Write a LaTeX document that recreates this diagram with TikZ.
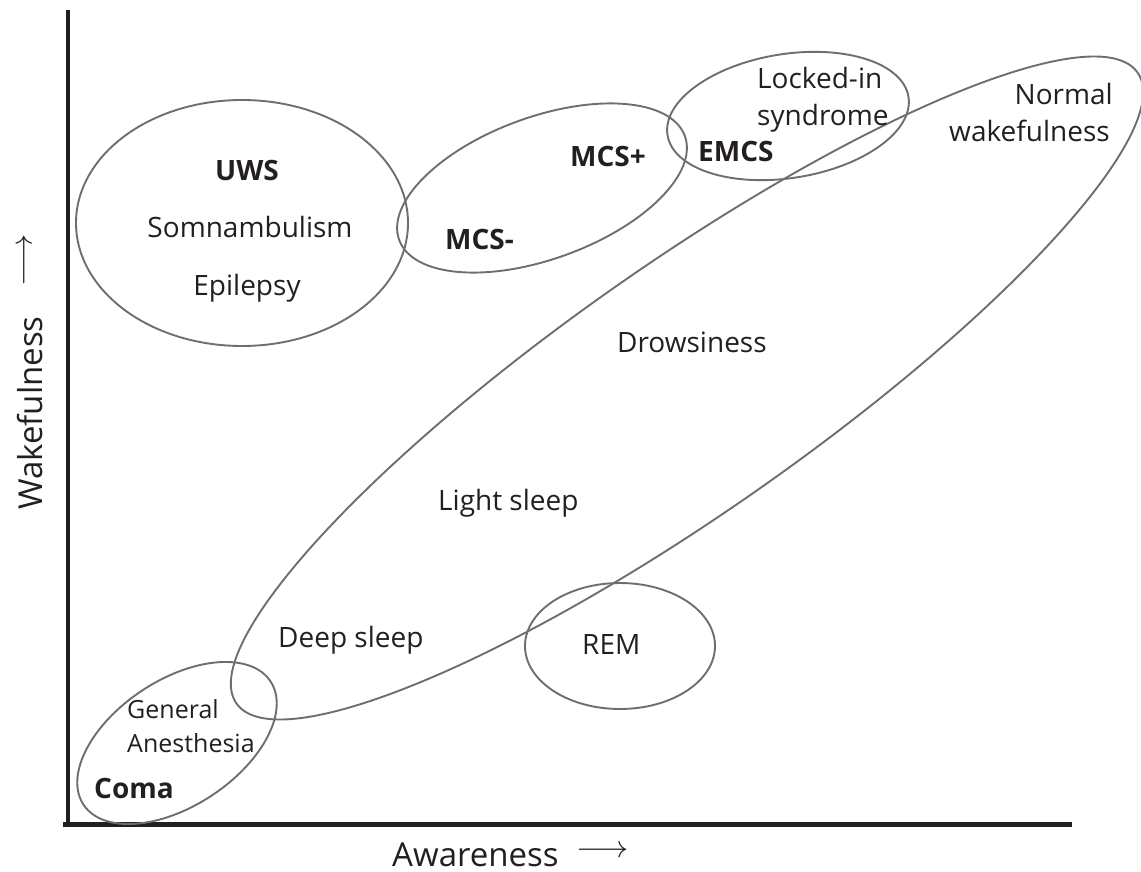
\documentclass[tikz,border=0pt]{standalone}
\usepackage{fontspec}
\usepackage{graphicx}
\setmainfont{Open Sans}
\definecolor{ink}{HTML}{231F20}
\definecolor{ring}{HTML}{6D6E71}
\begin{document}
\begin{tikzpicture}[x=1pt,y=-1pt,
  region/.style={draw=ring,line width=1.9pt},
  axisline/.style={draw=ink,line width=4.4pt},
  lbl/.style={inner sep=0pt,text=ink,font=\fontsize{28}{32}\selectfont},
  smalllbl/.style={inner sep=0pt,text=ink,font=\fontsize{25}{29}\selectfont},
  blbl/.style={inner sep=0pt,text=ink,font=\fontsize{28}{32}\selectfont\bfseries},
  axislbl/.style={inner sep=0pt,text=ink,font=\fontsize{33}{36}\selectfont},
  arrowlbl/.style={inner sep=0pt,text=ink,font=\fontsize{24}{26}\selectfont},
]
\useasboundingbox (0,0) rectangle (1141,872);

% axes
\coordinate (ytop) at (68,10);
\coordinate (ybot) at (68,826.5);
\coordinate (xleft) at (63,824.5);
\coordinate (xright) at (1072,824.5);
\draw[axisline] (ytop) -- (ybot);
\draw[axisline] (xleft) -- (xright);

% regions
\coordinate (cbig) at (687,388);
\draw[region, rotate around={35:(cbig)}] (cbig) ellipse [x radius=550pt, y radius=124pt];
\coordinate (cuws) at (242,223);
\draw[region] (cuws) ellipse [x radius=166pt, y radius=123pt];
\coordinate (cmcs) at (542,188);
\draw[region, rotate around={20:(cmcs)}] (cmcs) ellipse [x radius=152pt, y radius=71pt];
\coordinate (clis) at (788,116);
\draw[region, rotate around={9:(clis)}] (clis) ellipse [x radius=122pt, y radius=62pt];
\coordinate (ccoma) at (177,743);
\draw[region, rotate around={33.4:(ccoma)}] (ccoma) ellipse [x radius=112pt, y radius=63pt];
\coordinate (crem) at (620,646);
\draw[region] (crem) ellipse [x radius=95pt, y radius=63pt];

% labels
\node[blbl, anchor=base] (uws) at (247,180) {UWS};
\node[lbl, anchor=base] (somn) at (250,237) {Somnambulism};
\node[lbl, anchor=base] (epi) at (247,295) {Epilepsy};
\node[blbl, anchor=base west] (mcsp) at (570,167) {MCS+};
\node[blbl, anchor=base west] (mcsm) at (445,249) {MCS-};
\node[blbl, anchor=base west] (emcs) at (698,162) {EMCS};
\node[lbl, anchor=base west] (lock1) at (757,89) {Locked-in};
\node[lbl, anchor=base west] (lock2) at (757,126) {syndrome};
\node[lbl, anchor=base east] (norm1) at (1113,105) {Normal};
\node[lbl, anchor=base east] (norm2) at (1110,142) {wakefulness};
\node[lbl, anchor=base west] (drow) at (617,352) {Drowsiness};
\node[lbl, anchor=base west] (light) at (438,510) {Light sleep};
\node[lbl, anchor=base west] (deep) at (278,647) {Deep sleep};
\node[lbl, anchor=base west] (rem) at (582,654) {REM};
\node[smalllbl, anchor=base west] (gen1) at (127,718) {General};
\node[smalllbl, anchor=base west] (gen2) at (127,752) {Anesthesia};
\node[blbl, anchor=base west] (coma) at (94,798) {Coma};

% axis labels
\node[axislbl, anchor=base west] (xlab) at (392,866) {Awareness};
\node[arrowlbl] (xarr) at (603,852) {\scalebox{1.3}[1.25]{$\longrightarrow$}};
\node[axislbl, anchor=base west, rotate=90] (ylab) at (42,510) {Wakefulness};
\node[arrowlbl, rotate=90] (yarr) at (26,260) {\scalebox{1.3}[1.25]{$\longrightarrow$}};
\end{tikzpicture}
\end{document}
